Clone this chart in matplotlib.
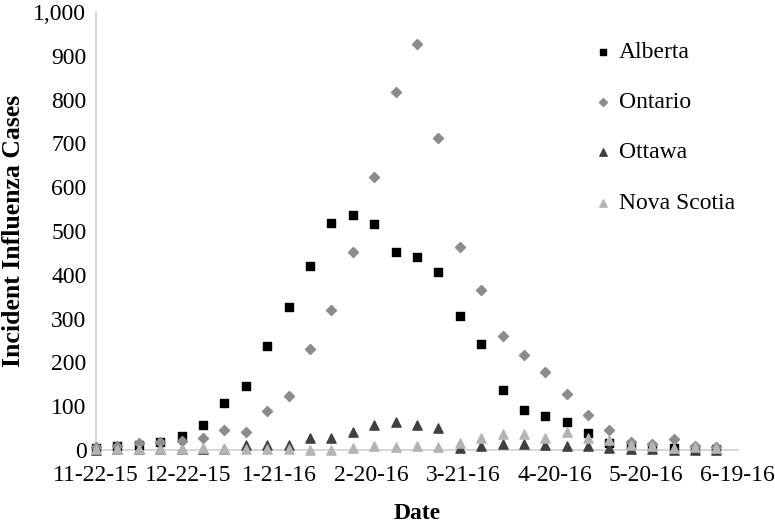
import datetime as dt
import matplotlib
matplotlib.use("Agg")
import matplotlib.pyplot as plt

# weekly counts, first week 11-22-15
start = dt.date(2015, 11, 22)
alberta = [5, 8, 12, 18, 33, 57, 108, 147, 238, 326, 420, 519, 536, 515, 453,
           441, 406, 305, 243, 136, 91, 77, 63, 38, 15, 12, 6, 5, 3, 2]
ontario = [6, 10, 16, 18, 20, 27, 46, 40, 90, 124, 230, 320, 453, 624, 818,
           927, 712, 463, 365, 260, 217, 178, 129, 79, 46, 18, 14, 26, 10, 6]
ottawa = [1, 2, 2, 2, 3, 3, 3, 12, 11, 11, 27, 27, 41, 56, 63,
          56, 50, 4, 8, 13, 13, 12, 8, 10, 5, 2, 3, 0, 1, 1]
nova_scotia = [2, 3, 3, 3, 3, 5, 3, 3, 2, 2, 0, 0, 4, 10, 6,
               8, 7, 15, 27, 36, 36, 28, 42, 27, 22, 12, 10, 5, 6, 4]
tick_labels = ["11-22-15", "12-22-15", "1-21-16", "2-20-16",
               "3-21-16", "4-20-16", "5-20-16", "6-19-16"]

weeks = [start + dt.timedelta(days=7 * i) for i in range(len(alberta))]
ticks = [start + dt.timedelta(days=30 * i) for i in range(len(tick_labels))]

plt.rcParams["font.family"] = ["Liberation Serif", "DejaVu Serif"]

fig = plt.figure(figsize=(7.75, 5.26), dpi=100)
ax = fig.add_axes([0.124, 0.1445, 0.828, 0.8325])

ax.scatter(weeks, alberta, marker="s", s=30, color="#000000", label="Alberta", zorder=3)
ax.scatter(weeks, ontario, marker="D", s=26, color="#8c8c8c", label="Ontario", zorder=3)
ax.scatter(weeks, ottawa, marker="^", s=44, color="#404040", label="Ottawa", zorder=3)
ax.scatter(weeks, nova_scotia, marker="^", s=44, color="#b4b4b4", label="Nova Scotia", zorder=3)

ax.set_xlim(ticks[0], ticks[-1])
ax.set_ylim(0, 1000)
ax.set_xticks(ticks)
ax.set_xticklabels(tick_labels)
ax.set_yticks(range(0, 1001, 100))
ax.set_yticklabels([f"{v:,}" for v in range(0, 1001, 100)])
ax.tick_params(length=0, labelsize=17)
ax.tick_params(axis="x", pad=11)
ax.tick_params(axis="y", pad=7)

for side in ["top", "right"]:
    ax.spines[side].set_visible(False)
for side in ["left", "bottom"]:
    ax.spines[side].set_color("#d0d0d0")
    ax.spines[side].set_linewidth(1.2)
for c in ax.collections:
    c.set_clip_on(False)

ax.set_xlabel("Date", fontsize=17, fontweight="bold", labelpad=12)
ax.set_ylabel("Incident Influenza Cases", fontsize=18.5, fontweight="bold", labelpad=6)

fig.legend(loc="upper left", bbox_to_anchor=(0.735, 0.962), frameon=False,
           fontsize=17, labelspacing=1.22, handletextpad=0.2, handlelength=1.0,
           markerscale=0.8)

fig.savefig("out.png", dpi=100)
